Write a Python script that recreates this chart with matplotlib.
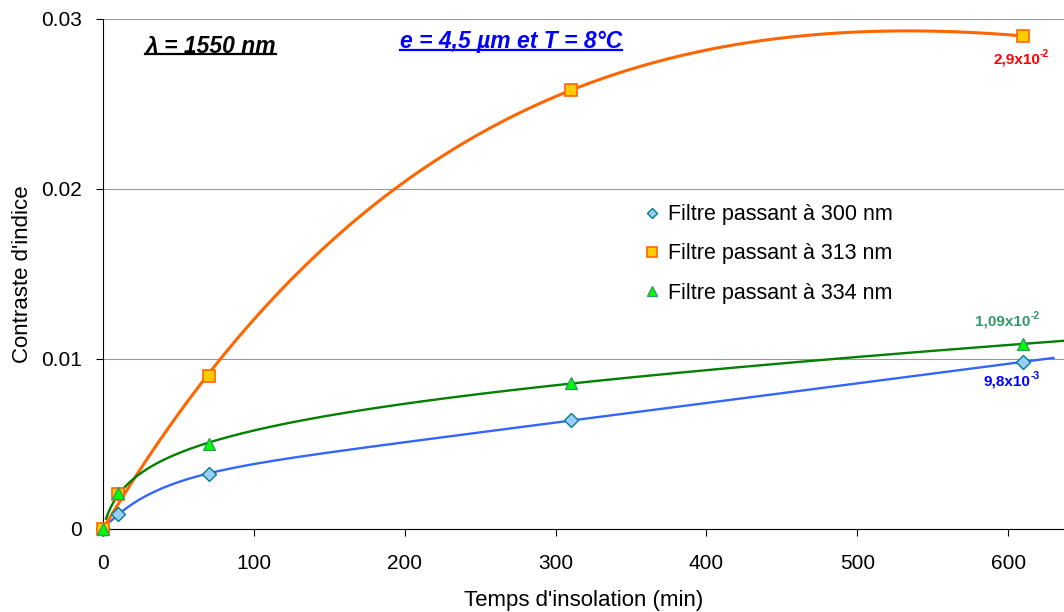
import numpy as np
import matplotlib.pyplot as plt
from matplotlib.lines import Line2D

plt.rcParams['font.family'] = ['Liberation Sans', 'DejaVu Sans']

# Data
temps = [0, 10, 70, 310, 610]
contraste_300 = [0.0, 0.00088, 0.00324, 0.00641, 0.00982]
contraste_313 = [0.0, 0.00206, 0.0090, 0.02582, 0.0290]
contraste_334 = [0.0, 0.0021, 0.0050, 0.00859, 0.01088]

labels = ['Filtre passant à 300 nm', 'Filtre passant à 313 nm', 'Filtre passant à 334 nm']

fig = plt.figure(figsize=(10.64, 6.12), dpi=100)
ax = fig.add_axes([103/1064, 83/612, 961/1064, 510/612])


# trend curve: a*f(x/b) + c*x, least squares with a grid over b
def trend(y, x0, x1, kind='exp'):
    if kind == 'exp':
        f = lambda u: 1 - np.exp(-u)
    else:
        f = lambda u: np.log1p(u)
    x = np.array(temps, float)
    y = np.array(y, float)
    best = None
    for b in np.linspace(5, 400, 800):
        A = np.column_stack([f(x / b), x])
        coef, *_ = np.linalg.lstsq(A, y, rcond=None)
        err = np.sum((A @ coef - y) ** 2)
        if best is None or err < best[0]:
            best = (err, b, coef)
    _, b, (a, c) = best
    xx = np.linspace(x0, x1, 400)
    return xx, a * f(xx / b) + c * xx


xx, yy = trend(contraste_313, 0, 610)
ax.plot(xx, yy, color='#FF6600', lw=2.2, zorder=2)
xx, yy = trend(contraste_334, 2, 640, kind='log')
ax.plot(xx, yy, color='#008000', lw=1.7, zorder=2)
xx, yy = trend(contraste_300, 5, 630)
ax.plot(xx, yy, color='#3366FF', lw=1.7, zorder=2)

ax.plot(temps, contraste_300, ls='none', marker='D', ms=7, mfc='#99CCFF',
        mec='#008080', mew=1, label=labels[0], zorder=3, clip_on=False)
ax.plot(temps, contraste_313, ls='none', marker='s', ms=8.5, mfc='#FFCC00',
        mec='#FF6600', mew=1.2, label=labels[1], zorder=3, clip_on=False)
ax.plot(temps, contraste_334, ls='none', marker='^', ms=9, mfc='#00FF00',
        mec='#339966', mew=1, label=labels[2], zorder=4, clip_on=False)

ax.set_xlim(0, 637)
ax.set_ylim(0, 0.03)
ax.set_xticks([0, 100, 200, 300, 400, 500, 600])
ax.set_yticks([0, 0.01, 0.02, 0.03])
ax.set_yticklabels(['0', '0.01', '0.02', '0.03'])
ax.tick_params(labelsize=15, direction='out', length=5)
ax.tick_params(axis='x', pad=13)
ax.tick_params(axis='y', pad=10)
ax.yaxis.grid(True, color='#999999', lw=0.8)
ax.set_axisbelow(True)
for s in ['top', 'right']:
    ax.spines[s].set_visible(False)

ax.set_xlabel("Temps d'insolation (min)", fontsize=16, labelpad=12)
ax.set_ylabel("Contraste d'indice", fontsize=16, labelpad=6)

ax.legend(loc='upper left', bbox_to_anchor=(0.562, 0.637), frameon=False,
          fontsize=15.5, handlelength=0.8, handletextpad=0.35,
          labelspacing=0.85, markerscale=0.8, borderpad=0, borderaxespad=0)

# value labels with superscript exponents
def value_label(x, y, base, expo, color):
    t = ax.text(x, y, base, color=color, fontsize=11, fontweight='bold',
                ha='left', va='center')
    ax.annotate(expo, xy=(1, 0.55), xycoords=t, color=color, fontsize=7.5,
                fontweight='bold', ha='left', va='bottom')

value_label(590, 0.02759, '2,9x10', '-2', '#FF0000')
value_label(578, 0.0122, '1,09x10', '-2', '#339966')
value_label(583.5, 0.00865, '9,8x10', '-3', '#0000FF')

# underlined headers
t1 = ax.text(28, 0.02841, 'λ = 1550 nm', fontsize=16.5, fontweight='bold',
             fontstyle='italic', color='black', va='center')
t2 = ax.text(197, 0.0287, 'e = 4,5 µm et T = 8°C', fontsize=16.5, fontweight='bold',
             fontstyle='italic', color='#0000FF', va='center')

fig.canvas.draw()
r = fig.canvas.get_renderer()
for t in (t1, t2):
    bb = t.get_window_extent(renderer=r).transformed(fig.transFigure.inverted())
    fig.add_artist(Line2D([bb.x0, bb.x1], [bb.y0 + 0.005, bb.y0 + 0.005],
                          color=t.get_color(), lw=1.6, transform=fig.transFigure))

fig.savefig('out.png', dpi=100)
